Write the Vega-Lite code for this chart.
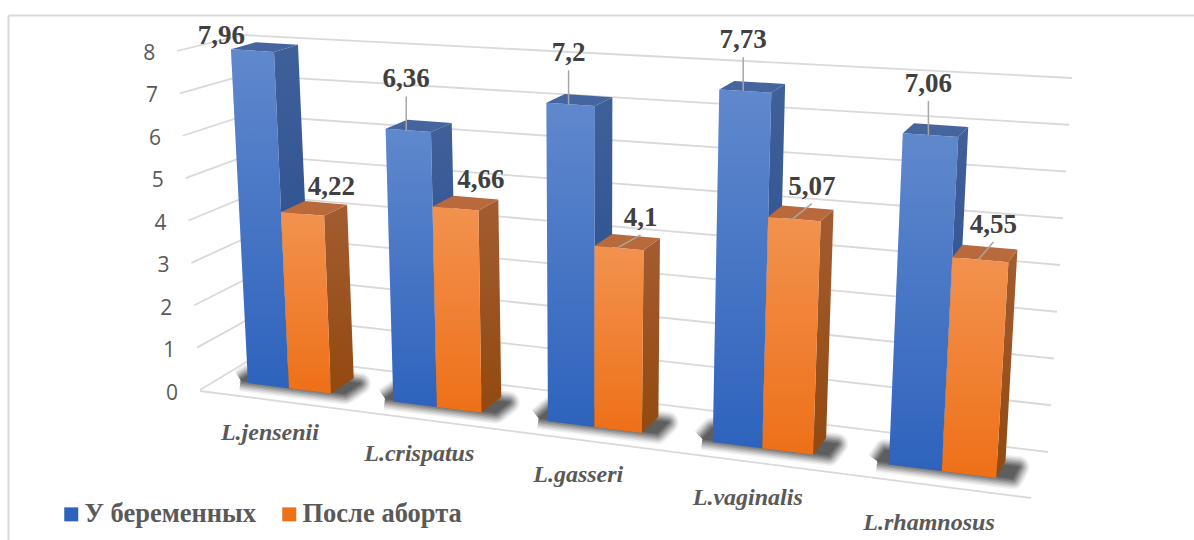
{
"$schema":"https://vega.github.io/schema/vega-lite/v6.json",
"width":1186,"height":525,"padding":{"left":8,"top":15,"right":0,"bottom":0},"autosize":"none","background":"white",
"config":{"view":{"stroke":null}},
"data":{"values":[
{"species":"L.jensenii","series":"У беременных","value":7.96},
{"species":"L.jensenii","series":"После аборта","value":4.22},
{"species":"L.crispatus","series":"У беременных","value":6.36},
{"species":"L.crispatus","series":"После аборта","value":4.66},
{"species":"L.gasseri","series":"У беременных","value":7.2},
{"species":"L.gasseri","series":"После аборта","value":4.1},
{"species":"L.vaginalis","series":"У беременных","value":7.73},
{"species":"L.vaginalis","series":"После аборта","value":5.07},
{"species":"L.rhamnosus","series":"У беременных","value":7.06},
{"species":"L.rhamnosus","series":"После аборта","value":4.55}
]},
"transform":[
{"calculate":"indexof(['L.jensenii','L.crispatus','L.gasseri','L.vaginalis','L.rhamnosus'],datum.species)","as":"idx"},
{"calculate":"datum.series==='После аборта'?datum.idx+0.288:datum.idx","as":"u0"},
{"calculate":"datum.series==='После аборта'?datum.idx+0.578:datum.idx+0.288","as":"u1"},
{"calculate":"['shadow','front','side','top','anchor']","as":"face"},
{"flatten":["face"]},
{"calculate":"[0,1,2,3,4]","as":"k"},
{"flatten":["k"]},
{"filter":"datum.k<4||datum.face==='shadow'"},
{"calculate":"datum.face==='shadow'?((datum.k===1||datum.k===2)?datum.idx+0.66:datum.idx-0.07):datum.face==='side'?datum.u1:datum.face==='anchor'?(datum.u0+datum.u1)/2:((datum.k===1||datum.k===2)?datum.u1:datum.u0)","as":"cu"},
{"calculate":"datum.face==='shadow'?0:(datum.face==='top'||datum.face==='anchor')?datum.value:(datum.k>=2?datum.value:0)","as":"cv"},
{"calculate":"datum.face==='shadow'?((datum.k===2||datum.k===3)?0.75:0.1):datum.face==='side'?((datum.k===1||datum.k===2)?1:0):datum.face==='top'?(datum.k>=2?1:0):0","as":"cd"},
{"calculate":"(133.5*datum.cu+248)/(1-0.03006*datum.cu)","as":"xb"},
{"calculate":"datum.xb+datum.cv*0.00643*(datum.xb-581)","as":"xf"},
{"calculate":"383+0.127*(datum.xb-248)-datum.cv*(41.8+0.00796*(datum.xb-248))+0.13*datum.cv*(7-datum.cv)","as":"yf"},
{"calculate":"datum.xf+datum.cd*(24-0.0204*(datum.xf-273))","as":"X"},
{"calculate":"datum.yf-datum.cd*(15+0.003*(datum.xf-248)-datum.cv)","as":"Y"}
],
"encoding":{
"x":{"field":"X","type":"quantitative","scale":{"domain":[8,1194],"nice":false,"zero":false},"axis":{"orient":"top","title":null,"labels":false,"ticks":false,"grid":false,"domainColor":"#D9D9D9","domainWidth":2}},
"y":{"field":"Y","type":"quantitative","scale":{"domain":[540,15],"nice":false,"zero":false},"axis":{"orient":"left","title":null,"labels":false,"ticks":false,"grid":false,"domainColor":"#D9D9D9","domainWidth":2}}
},
"layer":[
{"data":{"values":[{"value":0},{"value":1},{"value":2},{"value":3},{"value":4},{"value":5},{"value":6},{"value":7},{"value":8}]},
 "transform":[{"calculate":"[0,1,2]","as":"k"},{"flatten":["k"]},
 {"calculate":"datum.k===0?200-2.875*datum.value:datum.k===1?258-1.875*datum.value:1048+3*datum.value","as":"X"},
 {"calculate":"datum.k===0?390-42.375*datum.value:datum.k===1?355-40*datum.value:452-46.75*datum.value","as":"Y"}],
 "mark":{"type":"line","stroke":"#D9D9D9","strokeWidth":1.8},
 "encoding":{"detail":{"field":"value","type":"nominal"},"order":{"field":"k","type":"quantitative"}}},
{"data":{"values":[{"value":0}]},
 "transform":[{"calculate":"[0,1]","as":"k"},{"flatten":["k"]},
 {"calculate":"datum.k===0?200:1031","as":"X"},{"calculate":"datum.k===0?391:498","as":"Y"}],
 "mark":{"type":"line","stroke":"#D9D9D9","strokeWidth":1.8},
 "encoding":{"order":{"field":"k","type":"quantitative"}}},
{"data":{"values":[{"value":0},{"value":1},{"value":2},{"value":3},{"value":4},{"value":5},{"value":6},{"value":7},{"value":8}]},
 "transform":[{"calculate":"172-2.85*datum.value","as":"X"},{"calculate":"393.5-42.5*datum.value","as":"Y"}],
 "mark":{"type":"text","font":"Open Sans","fontSize":21,"color":"#595959","align":"center","baseline":"middle"},
 "encoding":{"text":{"field":"value","type":"nominal"}}},
{"transform":[{"filter":"datum.face==='shadow'&&datum.series==='У беременных'"}],
 "mark":{"type":"line","fill":"#000","stroke":"#000","strokeWidth":22,"strokeJoin":"round","opacity":0.05},
 "encoding":{"detail":{"field":"species","type":"nominal"},"order":{"field":"k","type":"quantitative"}}},
{"transform":[{"filter":"datum.face==='shadow'&&datum.series==='У беременных'"}],
 "mark":{"type":"line","fill":"#000","stroke":"#000","strokeWidth":19,"strokeJoin":"round","opacity":0.07},
 "encoding":{"detail":{"field":"species","type":"nominal"},"order":{"field":"k","type":"quantitative"}}},
{"transform":[{"filter":"datum.face==='shadow'&&datum.series==='У беременных'"}],
 "mark":{"type":"line","fill":"#000","stroke":"#000","strokeWidth":16,"strokeJoin":"round","opacity":0.09},
 "encoding":{"detail":{"field":"species","type":"nominal"},"order":{"field":"k","type":"quantitative"}}},
{"transform":[{"filter":"datum.face==='shadow'&&datum.series==='У беременных'"}],
 "mark":{"type":"line","fill":"#000","stroke":"#000","strokeWidth":13,"strokeJoin":"round","opacity":0.11},
 "encoding":{"detail":{"field":"species","type":"nominal"},"order":{"field":"k","type":"quantitative"}}},
{"transform":[{"filter":"datum.face==='shadow'&&datum.series==='У беременных'"}],
 "mark":{"type":"line","fill":"#000","stroke":"#000","strokeWidth":10,"strokeJoin":"round","opacity":0.13},
 "encoding":{"detail":{"field":"species","type":"nominal"},"order":{"field":"k","type":"quantitative"}}},
{"transform":[{"filter":"datum.face==='shadow'&&datum.series==='У беременных'"}],
 "mark":{"type":"line","fill":"#000","stroke":"#000","strokeWidth":7,"strokeJoin":"round","opacity":0.14},
 "encoding":{"detail":{"field":"species","type":"nominal"},"order":{"field":"k","type":"quantitative"}}},
{"transform":[{"filter":"datum.face==='shadow'&&datum.series==='У беременных'"}],
 "mark":{"type":"line","fill":"#000","stroke":"#000","strokeWidth":4,"strokeJoin":"round","opacity":0.15},
 "encoding":{"detail":{"field":"species","type":"nominal"},"order":{"field":"k","type":"quantitative"}}},
{"transform":[{"filter":"datum.face==='shadow'&&datum.series==='У беременных'"}],
 "mark":{"type":"line","fill":"#000","stroke":"#000","strokeWidth":1,"strokeJoin":"round","opacity":0.15},
 "encoding":{"detail":{"field":"species","type":"nominal"},"order":{"field":"k","type":"quantitative"}}},
{"transform":[{"filter":"datum.face==='side'&&datum.series==='У беременных'"}],
 "mark":{"type":"line","strokeWidth":0,"fill":{"gradient":"linear","x1":0,"y1":0,"x2":0,"y2":1,"stops":[{"offset":0,"color":"#40609A"},{"offset":1,"color":"#234A8C"}]}},
 "encoding":{"detail":{"field":"species","type":"nominal"},"order":{"field":"k","type":"quantitative"}}},
{"transform":[{"filter":"datum.face==='side'&&datum.series==='После аборта'"}],
 "mark":{"type":"line","strokeWidth":0,"fill":{"gradient":"linear","x1":0,"y1":0,"x2":0,"y2":1,"stops":[{"offset":0,"color":"#A35C30"},{"offset":1,"color":"#924A10"}]}},
 "encoding":{"detail":{"field":"species","type":"nominal"},"order":{"field":"k","type":"quantitative"}}},
{"transform":[{"filter":"datum.face==='top'&&datum.series==='У беременных'"}],
 "mark":{"type":"line","strokeWidth":0,"fill":"#46659F"},
 "encoding":{"detail":{"field":"species","type":"nominal"},"order":{"field":"k","type":"quantitative"}}},
{"transform":[{"filter":"datum.face==='top'&&datum.series==='После аборта'"}],
 "mark":{"type":"line","strokeWidth":0,"fill":"#B96A3C"},
 "encoding":{"detail":{"field":"species","type":"nominal"},"order":{"field":"k","type":"quantitative"}}},
{"transform":[{"filter":"datum.face==='front'"}],
 "mark":{"type":"line","strokeWidth":0},
 "encoding":{"detail":{"field":"species","type":"nominal"},"order":{"field":"k","type":"quantitative"},
  "fill":{"field":"series","type":"nominal","scale":{"domain":["У беременных","После аборта"],"range":["#2E63BD","#EE7018"]},
   "legend":{"orient":"none","legendX":50,"legendY":486,"direction":"horizontal","title":null,"symbolType":"square","symbolSize":196,"symbolStrokeWidth":0,"labelFont":"Liberation Serif","labelFontWeight":"bold","labelFontSize":26.5,"labelLimit":400,"labelColor":"#595959","columnPadding":19,"labelOffset":0}}}},
{"transform":[{"filter":"datum.face==='front'"}],
 "mark":{"type":"line","strokeWidth":0,"fill":{"gradient":"linear","x1":0,"y1":0,"x2":0,"y2":1,"stops":[{"offset":0,"color":"rgba(255,255,255,0.24)"},{"offset":1,"color":"rgba(255,255,255,0)"}]}},
 "encoding":{"detail":[{"field":"species","type":"nominal"},{"field":"series","type":"nominal"}],"order":{"field":"k","type":"quantitative"}}},
{"transform":[{"filter":"datum.face==='anchor'&&datum.k===0&&!(datum.species==='L.jensenii'||(datum.species==='L.crispatus'&&datum.series==='После аборта'))"},
  {"calculate":"[0,1]","as":"e"},{"flatten":["e"]},
  {"calculate":"datum.series==='После аборта'?29-0.0235*(datum.X-303):-2","as":"ox"},
  {"calculate":"datum.series==='После аборта'?-26.5-0.012*(datum.X-303):-51","as":"oy"},
  {"calculate":"datum.e===0?datum.X-2:datum.X+datum.ox","as":"X"},
  {"calculate":"datum.e===0?datum.Y:datum.Y+datum.oy+17","as":"Y"}],
 "mark":{"type":"line","stroke":"#A6A6A6","strokeWidth":1.5},
 "encoding":{"detail":[{"field":"species","type":"nominal"},{"field":"series","type":"nominal"}],"order":{"field":"e","type":"quantitative"}}},
{"transform":[{"filter":"datum.face==='anchor'&&datum.k===0"},
  {"calculate":"datum.species==='L.jensenii'&&datum.series==='У беременных'?-31:datum.series==='После аборта'?29-0.0235*(datum.X-303):-2","as":"ox"},
  {"calculate":"datum.species==='L.jensenii'&&datum.series==='У беременных'?-15:datum.series==='После аборта'?-26.5-0.012*(datum.X-303):-51","as":"oy"},
  {"calculate":"datum.X+datum.ox","as":"X"},{"calculate":"datum.Y+datum.oy","as":"Y"},
  {"calculate":"replace(''+datum.value,'.',',')","as":"label"}],
 "mark":{"type":"text","font":"Liberation Serif","fontWeight":"bold","fontSize":27,"color":"#404040","align":"center","baseline":"middle"},
 "encoding":{"text":{"field":"label","type":"nominal"}}},
{"transform":[{"filter":"datum.face==='front'&&datum.k===0&&datum.series==='После аборта'"},
  {"calculate":"datum.Y+45+0.0107*(datum.X-290)","as":"Y"},
  {"calculate":"datum.X-19+0.0095*(datum.X-290)","as":"X"}],
 "mark":{"type":"text","font":"Liberation Serif","fontWeight":"bold","fontStyle":"italic","fontSize":24,"color":"#595959","align":"center","baseline":"middle"},
 "encoding":{"text":{"field":"species","type":"nominal"}}}
]
}
